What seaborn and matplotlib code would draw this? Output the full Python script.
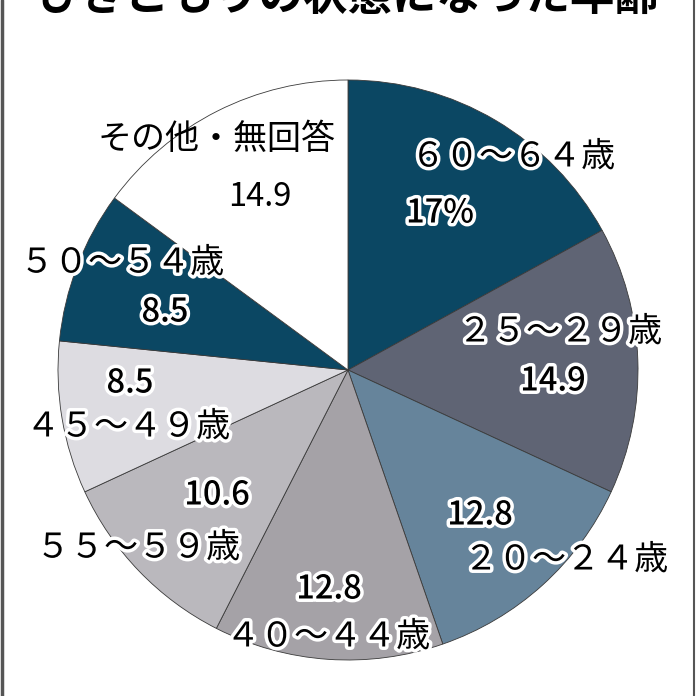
import matplotlib
matplotlib.use("Agg")
import matplotlib.pyplot as plt
import matplotlib.patheffects as pe
import seaborn as sns

# データ（ひきこもりの状態になった年齢、%）
labels = ["６０～６４歳", "２５～２９歳", "２０～２４歳", "４０～４４歳",
          "５５～５９歳", "４５～４９歳", "５０～５４歳", "その他・無回答"]
values = [17.0, 14.9, 12.8, 12.8, 10.6, 8.5, 8.5, 14.9]
value_text = ["17%", "14.9", "12.8", "12.8", "10.6", "8.5", "8.5", "14.9"]
colors = ["#0b4763", "#5f6474", "#66849b", "#a5a2a7",
          "#bab8bd", "#dddce1", "#0b4763", "#ffffff"]

sns.set_theme(style="white")
plt.rcParams["font.family"] = ["Noto Sans CJK JP", "DejaVu Sans"]

H = 696
fig = plt.figure(figsize=(6.96, 6.96), dpi=100)
ax = fig.add_axes([0, 0, 1, 1])

ax.pie(values, colors=colors, startangle=90, counterclock=False,
       radius=290, center=(348, H - 370), frame=True,
       wedgeprops=dict(edgecolor="#3a3a3a", linewidth=0.6))
ax.set_xlim(0, H)
ax.set_ylim(0, H)
ax.set_aspect("equal")
ax.axis("off")

stroke = [pe.withStroke(linewidth=5, foreground="white")]

# ラベル位置（上からのピクセル）
label_pos = [(513, 157), (560, 332), (566, 560), (328, 637),
             (138, 548), (128, 427), (122, 263), (217, 140)]
value_pos = [(440, 213), (553, 381), (480, 515), (329, 589),
             (217, 495), (130, 383), (165, 312), (260, 197)]

for i, (lab, val) in enumerate(zip(labels, value_text)):
    last = i == len(labels) - 1
    eff = None if last else stroke
    lx, ly = label_pos[i]
    vx, vy = value_pos[i]
    ax.text(lx, H - ly, lab, ha="center", va="center", fontsize=24.5,
            color="black", path_effects=eff)
    ax.text(vx, H - vy, val, ha="center", va="center", fontsize=23.5,
            fontweight="normal" if last else "medium", color="black",
            path_effects=eff)

# 上部で切れたタイトル
fig.text(0.5, 1 - 10 / H, "ひきこもりの状態になった年齢", ha="center",
         va="baseline", fontsize=32, fontweight="bold", color="black")

# 左右の枠線
ax.plot([1.5, 1.5], [0, H], color="#555555", linewidth=2.5)
ax.plot([693.5, 693.5], [0, H], color="#555555", linewidth=1.5)

fig.savefig("out.png", dpi=100, facecolor="white")
